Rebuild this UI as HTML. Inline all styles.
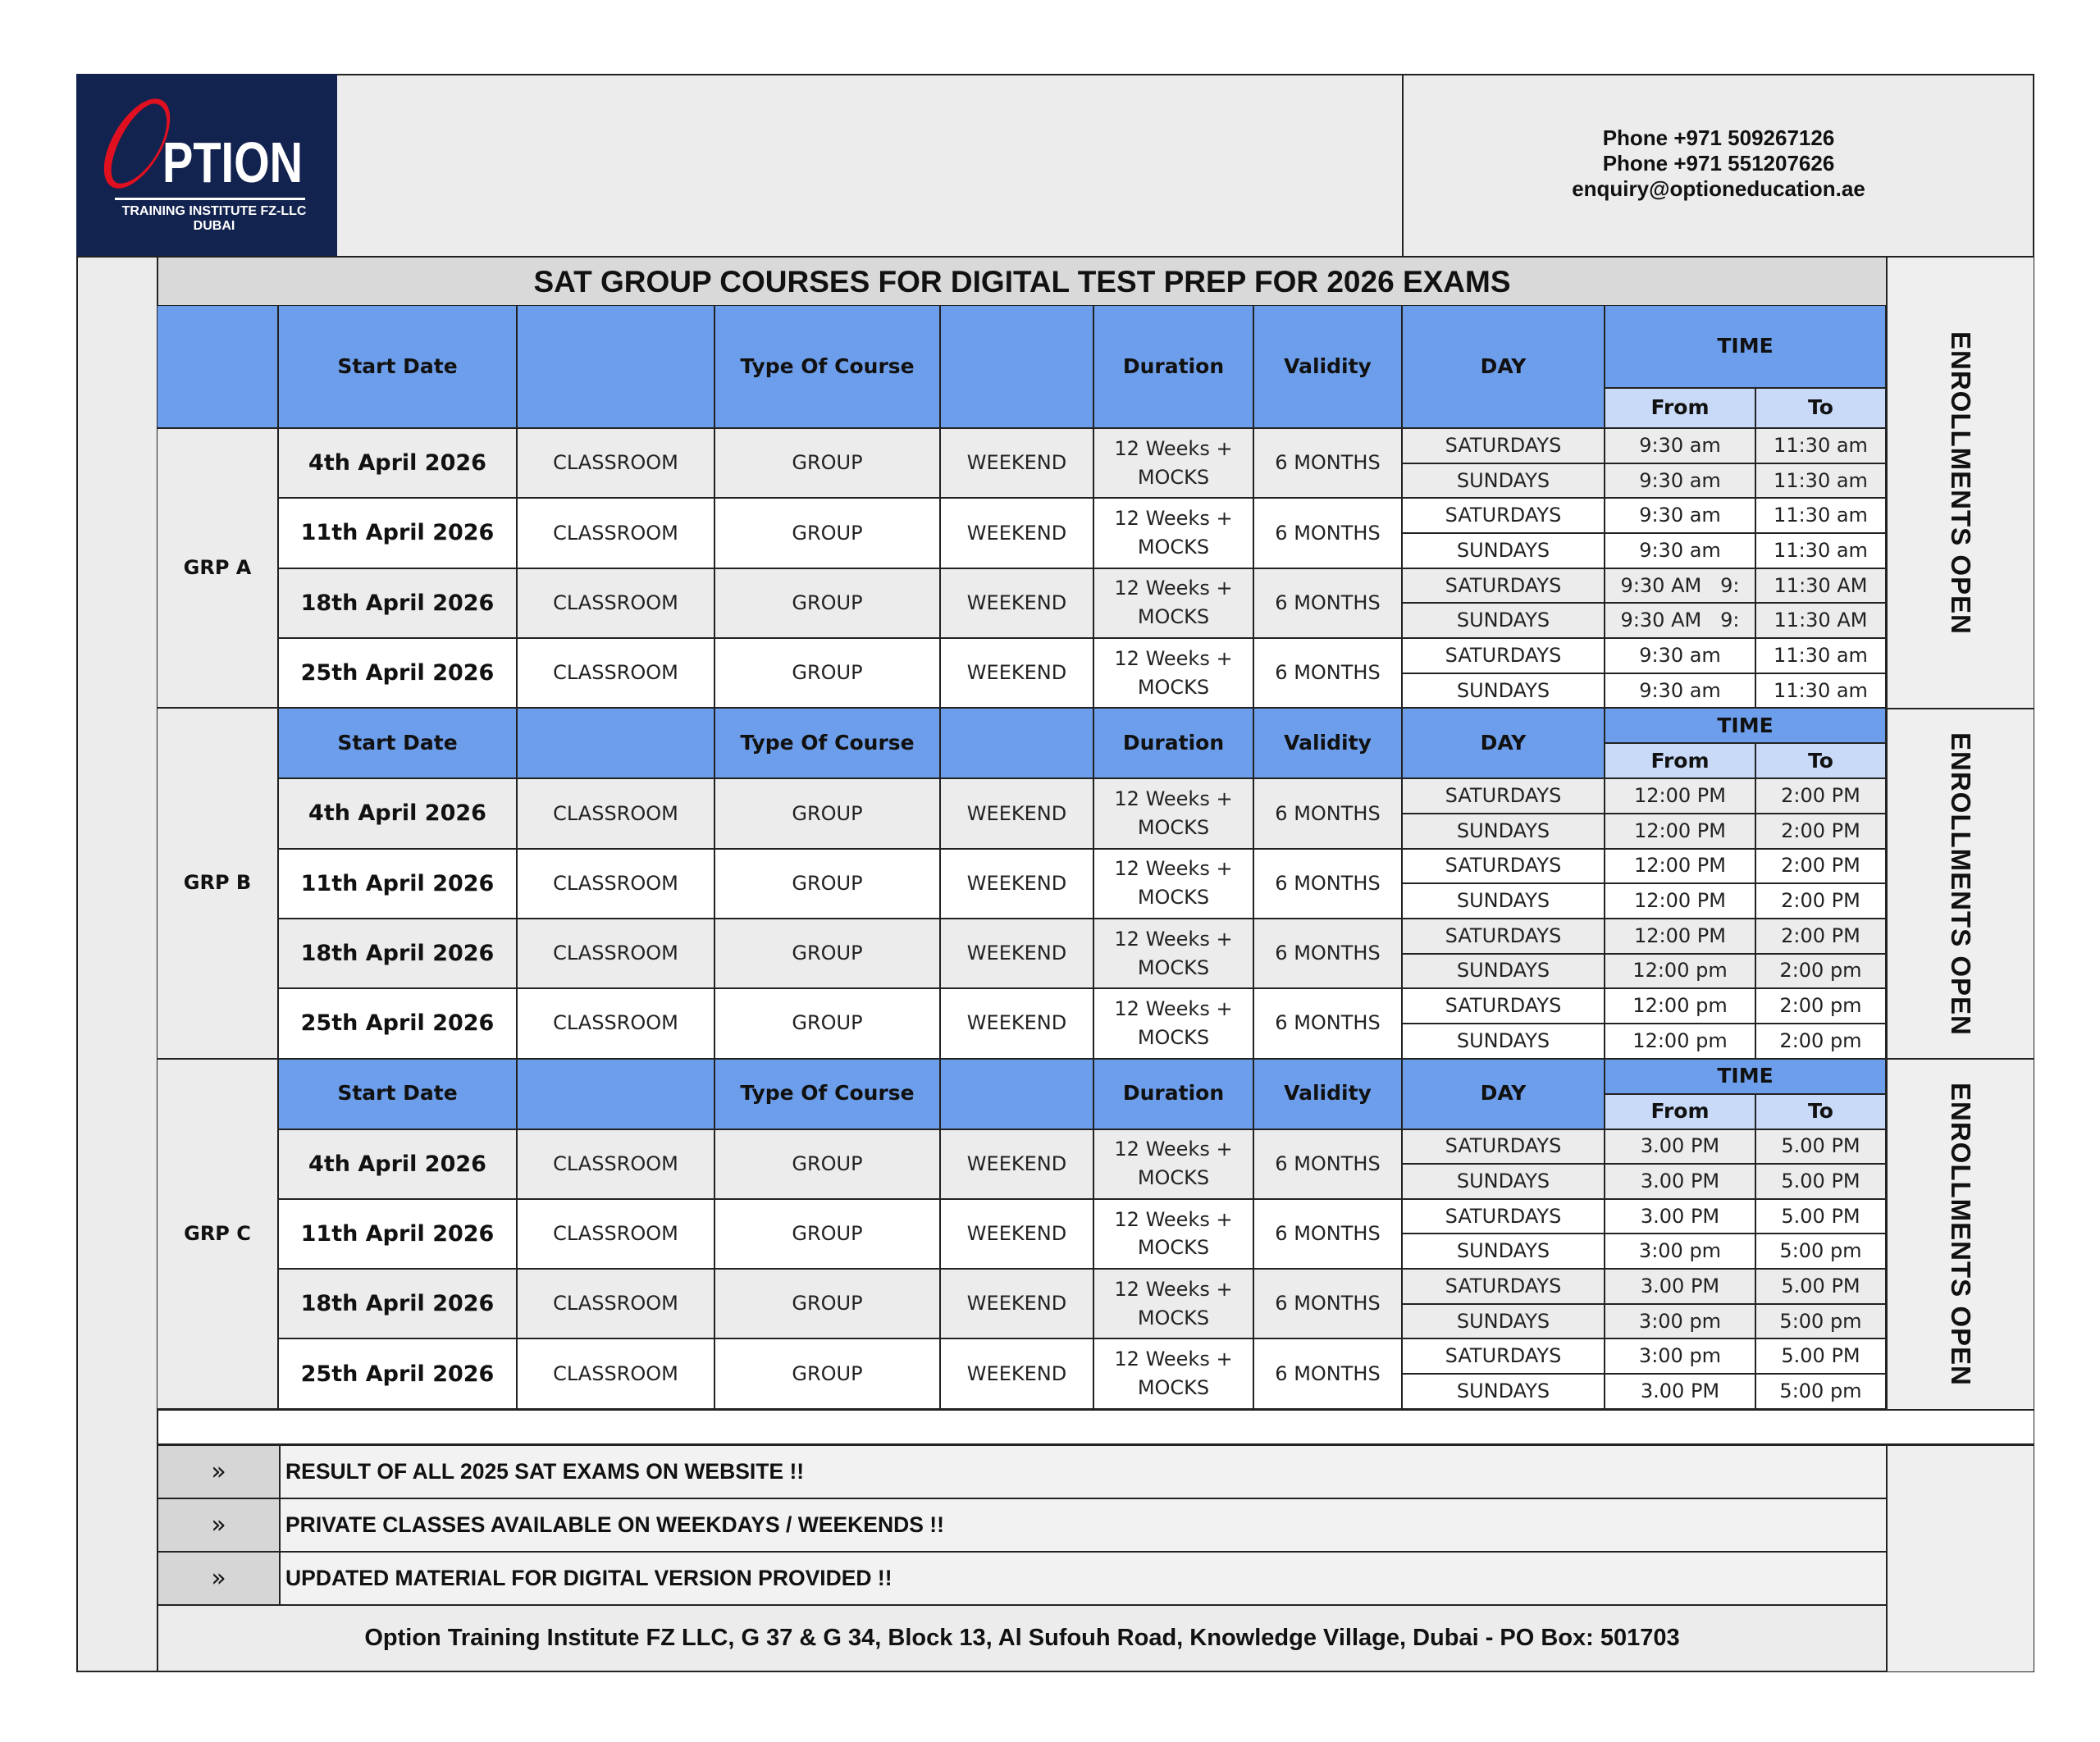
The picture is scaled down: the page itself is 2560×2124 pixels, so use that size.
<!DOCTYPE html>
<html><head><meta charset="utf-8"><style>
*{margin:0;padding:0;box-sizing:border-box}
body{width:2560px;height:2124px;background:#fff;position:relative;font-family:"DejaVu Sans","Liberation Sans",sans-serif;overflow:hidden}
.a{position:absolute}
.frame{left:93px;top:90px;width:2387px;height:1949px;border:2px solid #222;background:#ececec}
.grid{position:absolute;left:192px;top:373px;width:2108px;display:grid;gap:2px;background:#222;
grid-template-columns:146px 289px 239px 273px 185px 193px 179px 245px 182px 157px;
grid-template-rows:99px 47px repeat(8,40.67px) 41px 41px repeat(8,40.67px) 41px 41px repeat(8,40.67px);padding-bottom:2px}
.grid div{display:flex;align-items:center;justify-content:center;text-align:center;font-size:24px;color:#222;line-height:1.45}
.grid .h{background:#6d9eeb;font-weight:bold;color:#111;font-size:25px}
.grid .s{background:#c9daf8;font-weight:bold;color:#111;font-size:25px}
.grid .g{background:#ececec}
.grid .w{background:#fff}
.grid .d{font-weight:bold;font-size:27px;color:#111}
.grid .grp{background:#ececec;font-weight:bold;color:#111;font-size:24px}
.en{font-family:"Liberation Sans",sans-serif;font-weight:bold;font-size:33px;writing-mode:vertical-rl;color:#111;letter-spacing:1px;display:flex;align-items:center;justify-content:center}
.note{font-family:"Liberation Sans",sans-serif;font-weight:bold;font-size:26.5px;color:#111;display:flex;align-items:center}
.ar{background:#d6d6d6;display:flex;align-items:center;justify-content:center;font-size:30px;color:#111}
</style></head><body>
<div class="a frame"></div>
<!-- logo -->
<div class="a" style="left:93px;top:90px;width:318px;height:223px;background:#13234f"></div>
<div class="a" style="left:134px;top:120px;width:66px;height:110px;border:6px solid #e11020;border-radius:50%;transform:skewX(-18deg) rotate(8deg);border-left-width:10px;border-right-width:3px"></div>
<div class="a" style="left:198px;top:163px;font-family:'Liberation Sans',sans-serif;font-weight:bold;font-size:70px;color:#fff;transform:scaleX(0.8);transform-origin:left top;line-height:1">PTION</div>
<div class="a" style="left:140px;top:241px;width:232px;height:3px;background:#fff"></div>
<div class="a" style="left:93px;top:249px;width:318px;text-align:center;font-family:'Liberation Sans',sans-serif;font-weight:bold;font-size:16px;color:#fff;line-height:18px;padding-left:18px">TRAINING INSTITUTE FZ-LLC<br>DUBAI</div>
<!-- header lines -->
<div class="a" style="left:1709px;top:90px;width:2px;height:224px;background:#222"></div>
<div class="a" style="left:93px;top:312px;width:2387px;height:2px;background:#222"></div>
<div class="a" style="left:1711px;top:153px;width:768px;text-align:center;font-family:'Liberation Sans',sans-serif;font-weight:bold;font-size:26px;line-height:31px;color:#111">Phone +971 509267126<br>Phone +971 551207626<br>enquiry@optioneducation.ae</div>
<!-- left strip line -->
<div class="a" style="left:191px;top:313px;width:2px;height:1726px;background:#222"></div>
<!-- title -->
<div class="a" style="left:193px;top:314px;width:2106px;height:59px;background:#d9d9d9;display:flex;align-items:center;justify-content:center;font-family:'Liberation Sans',sans-serif;font-weight:bold;font-size:37px;color:#111">SAT GROUP COURSES FOR DIGITAL TEST PREP FOR 2026 EXAMS</div>
<div class="a" style="left:2299px;top:313px;width:2px;height:1408px;background:#222"></div>
<div class="a" style="left:192px;top:372px;width:2108px;height:2px;background:#222"></div>
<!-- enroll -->
<div class="a" style="left:2301px;top:314px;width:178px;height:1406px;background:#efefef"></div>
<div class="a en" style="left:2301px;top:314px;width:178px;height:550px">ENROLLMENTS OPEN</div>
<div class="a" style="left:2299px;top:863px;width:181px;height:2px;background:#222"></div>
<div class="a en" style="left:2301px;top:865px;width:178px;height:426px">ENROLLMENTS OPEN</div>
<div class="a" style="left:2299px;top:1290px;width:181px;height:2px;background:#222"></div>
<div class="a en" style="left:2301px;top:1292px;width:178px;height:426px">ENROLLMENTS OPEN</div>

<div class="grid">
<!-- A header -->
<div class="h" style="grid-area:1/1/3/2"></div>
<div class="h" style="grid-area:1/2/3/3">Start Date</div>
<div class="h" style="grid-area:1/3/3/4"></div>
<div class="h" style="grid-area:1/4/3/5">Type Of Course</div>
<div class="h" style="grid-area:1/5/3/6"></div>
<div class="h" style="grid-area:1/6/3/7">Duration</div>
<div class="h" style="grid-area:1/7/3/8">Validity</div>
<div class="h" style="grid-area:1/8/3/9">DAY</div>
<div class="h" style="grid-area:1/9/2/11">TIME</div>
<div class="s" style="grid-area:2/9/3/10">From</div>
<div class="s" style="grid-area:2/10/3/11">To</div>
<div class="grp" style="grid-area:3/1/11/2">GRP A</div>
<!-- A r1 -->
<div class="g d" style="grid-area:3/2/5/3">4th April 2026</div><div class="g" style="grid-area:3/3/5/4">CLASSROOM</div><div class="g" style="grid-area:3/4/5/5">GROUP</div><div class="g" style="grid-area:3/5/5/6">WEEKEND</div><div class="g" style="grid-area:3/6/5/7">12 Weeks +<br>MOCKS</div><div class="g" style="grid-area:3/7/5/8">6 MONTHS</div>
<div class="g" style="grid-area:3/8">SATURDAYS</div><div class="g" style="grid-area:3/9">9:30 am</div><div class="g" style="grid-area:3/10">11:30 am</div>
<div class="g" style="grid-area:4/8">SUNDAYS</div><div class="g" style="grid-area:4/9">9:30 am</div><div class="g" style="grid-area:4/10">11:30 am</div>
<!-- A r2 -->
<div class="w d" style="grid-area:5/2/7/3">11th April 2026</div><div class="w" style="grid-area:5/3/7/4">CLASSROOM</div><div class="w" style="grid-area:5/4/7/5">GROUP</div><div class="w" style="grid-area:5/5/7/6">WEEKEND</div><div class="w" style="grid-area:5/6/7/7">12 Weeks +<br>MOCKS</div><div class="w" style="grid-area:5/7/7/8">6 MONTHS</div>
<div class="w" style="grid-area:5/8">SATURDAYS</div><div class="w" style="grid-area:5/9">9:30 am</div><div class="w" style="grid-area:5/10">11:30 am</div>
<div class="w" style="grid-area:6/8">SUNDAYS</div><div class="w" style="grid-area:6/9">9:30 am</div><div class="w" style="grid-area:6/10">11:30 am</div>
<!-- A r3 -->
<div class="g d" style="grid-area:7/2/9/3">18th April 2026</div><div class="g" style="grid-area:7/3/9/4">CLASSROOM</div><div class="g" style="grid-area:7/4/9/5">GROUP</div><div class="g" style="grid-area:7/5/9/6">WEEKEND</div><div class="g" style="grid-area:7/6/9/7">12 Weeks +<br>MOCKS</div><div class="g" style="grid-area:7/7/9/8">6 MONTHS</div>
<div class="g" style="grid-area:7/8">SATURDAYS</div><div class="g" style="grid-area:7/9">9:30 AM&nbsp;&nbsp;&nbsp;9:</div><div class="g" style="grid-area:7/10">11:30 AM</div>
<div class="g" style="grid-area:8/8">SUNDAYS</div><div class="g" style="grid-area:8/9">9:30 AM&nbsp;&nbsp;&nbsp;9:</div><div class="g" style="grid-area:8/10">11:30 AM</div>
<!-- A r4 -->
<div class="w d" style="grid-area:9/2/11/3">25th April 2026</div><div class="w" style="grid-area:9/3/11/4">CLASSROOM</div><div class="w" style="grid-area:9/4/11/5">GROUP</div><div class="w" style="grid-area:9/5/11/6">WEEKEND</div><div class="w" style="grid-area:9/6/11/7">12 Weeks +<br>MOCKS</div><div class="w" style="grid-area:9/7/11/8">6 MONTHS</div>
<div class="w" style="grid-area:9/8">SATURDAYS</div><div class="w" style="grid-area:9/9">9:30 am</div><div class="w" style="grid-area:9/10">11:30 am</div>
<div class="w" style="grid-area:10/8">SUNDAYS</div><div class="w" style="grid-area:10/9">9:30 am</div><div class="w" style="grid-area:10/10">11:30 am</div>

<!-- B -->
<div class="grp" style="grid-area:11/1/21/2">GRP B</div>
<div class="h" style="grid-area:11/2/13/3">Start Date</div>
<div class="h" style="grid-area:11/3/13/4"></div>
<div class="h" style="grid-area:11/4/13/5">Type Of Course</div>
<div class="h" style="grid-area:11/5/13/6"></div>
<div class="h" style="grid-area:11/6/13/7">Duration</div>
<div class="h" style="grid-area:11/7/13/8">Validity</div>
<div class="h" style="grid-area:11/8/13/9">DAY</div>
<div class="h" style="grid-area:11/9/12/11">TIME</div>
<div class="s" style="grid-area:12/9/13/10">From</div>
<div class="s" style="grid-area:12/10/13/11">To</div>
<div class="g d" style="grid-area:13/2/15/3">4th April 2026</div><div class="g" style="grid-area:13/3/15/4">CLASSROOM</div><div class="g" style="grid-area:13/4/15/5">GROUP</div><div class="g" style="grid-area:13/5/15/6">WEEKEND</div><div class="g" style="grid-area:13/6/15/7">12 Weeks +<br>MOCKS</div><div class="g" style="grid-area:13/7/15/8">6 MONTHS</div>
<div class="g" style="grid-area:13/8">SATURDAYS</div><div class="g" style="grid-area:13/9">12:00 PM</div><div class="g" style="grid-area:13/10">2:00 PM</div>
<div class="g" style="grid-area:14/8">SUNDAYS</div><div class="g" style="grid-area:14/9">12:00 PM</div><div class="g" style="grid-area:14/10">2:00 PM</div>
<div class="w d" style="grid-area:15/2/17/3">11th April 2026</div><div class="w" style="grid-area:15/3/17/4">CLASSROOM</div><div class="w" style="grid-area:15/4/17/5">GROUP</div><div class="w" style="grid-area:15/5/17/6">WEEKEND</div><div class="w" style="grid-area:15/6/17/7">12 Weeks +<br>MOCKS</div><div class="w" style="grid-area:15/7/17/8">6 MONTHS</div>
<div class="w" style="grid-area:15/8">SATURDAYS</div><div class="w" style="grid-area:15/9">12:00 PM</div><div class="w" style="grid-area:15/10">2:00 PM</div>
<div class="w" style="grid-area:16/8">SUNDAYS</div><div class="w" style="grid-area:16/9">12:00 PM</div><div class="w" style="grid-area:16/10">2:00 PM</div>
<div class="g d" style="grid-area:17/2/19/3">18th April 2026</div><div class="g" style="grid-area:17/3/19/4">CLASSROOM</div><div class="g" style="grid-area:17/4/19/5">GROUP</div><div class="g" style="grid-area:17/5/19/6">WEEKEND</div><div class="g" style="grid-area:17/6/19/7">12 Weeks +<br>MOCKS</div><div class="g" style="grid-area:17/7/19/8">6 MONTHS</div>
<div class="g" style="grid-area:17/8">SATURDAYS</div><div class="g" style="grid-area:17/9">12:00 PM</div><div class="g" style="grid-area:17/10">2:00 PM</div>
<div class="g" style="grid-area:18/8">SUNDAYS</div><div class="g" style="grid-area:18/9">12:00 pm</div><div class="g" style="grid-area:18/10">2:00 pm</div>
<div class="w d" style="grid-area:19/2/21/3">25th April 2026</div><div class="w" style="grid-area:19/3/21/4">CLASSROOM</div><div class="w" style="grid-area:19/4/21/5">GROUP</div><div class="w" style="grid-area:19/5/21/6">WEEKEND</div><div class="w" style="grid-area:19/6/21/7">12 Weeks +<br>MOCKS</div><div class="w" style="grid-area:19/7/21/8">6 MONTHS</div>
<div class="w" style="grid-area:19/8">SATURDAYS</div><div class="w" style="grid-area:19/9">12:00 pm</div><div class="w" style="grid-area:19/10">2:00 pm</div>
<div class="w" style="grid-area:20/8">SUNDAYS</div><div class="w" style="grid-area:20/9">12:00 pm</div><div class="w" style="grid-area:20/10">2:00 pm</div>

<!-- C -->
<div class="grp" style="grid-area:21/1/31/2">GRP C</div>
<div class="h" style="grid-area:21/2/23/3">Start Date</div>
<div class="h" style="grid-area:21/3/23/4"></div>
<div class="h" style="grid-area:21/4/23/5">Type Of Course</div>
<div class="h" style="grid-area:21/5/23/6"></div>
<div class="h" style="grid-area:21/6/23/7">Duration</div>
<div class="h" style="grid-area:21/7/23/8">Validity</div>
<div class="h" style="grid-area:21/8/23/9">DAY</div>
<div class="h" style="grid-area:21/9/22/11">TIME</div>
<div class="s" style="grid-area:22/9/23/10">From</div>
<div class="s" style="grid-area:22/10/23/11">To</div>
<div class="g d" style="grid-area:23/2/25/3">4th April 2026</div><div class="g" style="grid-area:23/3/25/4">CLASSROOM</div><div class="g" style="grid-area:23/4/25/5">GROUP</div><div class="g" style="grid-area:23/5/25/6">WEEKEND</div><div class="g" style="grid-area:23/6/25/7">12 Weeks +<br>MOCKS</div><div class="g" style="grid-area:23/7/25/8">6 MONTHS</div>
<div class="g" style="grid-area:23/8">SATURDAYS</div><div class="g" style="grid-area:23/9">3.00 PM</div><div class="g" style="grid-area:23/10">5.00 PM</div>
<div class="g" style="grid-area:24/8">SUNDAYS</div><div class="g" style="grid-area:24/9">3.00 PM</div><div class="g" style="grid-area:24/10">5.00 PM</div>
<div class="w d" style="grid-area:25/2/27/3">11th April 2026</div><div class="w" style="grid-area:25/3/27/4">CLASSROOM</div><div class="w" style="grid-area:25/4/27/5">GROUP</div><div class="w" style="grid-area:25/5/27/6">WEEKEND</div><div class="w" style="grid-area:25/6/27/7">12 Weeks +<br>MOCKS</div><div class="w" style="grid-area:25/7/27/8">6 MONTHS</div>
<div class="w" style="grid-area:25/8">SATURDAYS</div><div class="w" style="grid-area:25/9">3.00 PM</div><div class="w" style="grid-area:25/10">5.00 PM</div>
<div class="w" style="grid-area:26/8">SUNDAYS</div><div class="w" style="grid-area:26/9">3:00 pm</div><div class="w" style="grid-area:26/10">5:00 pm</div>
<div class="g d" style="grid-area:27/2/29/3">18th April 2026</div><div class="g" style="grid-area:27/3/29/4">CLASSROOM</div><div class="g" style="grid-area:27/4/29/5">GROUP</div><div class="g" style="grid-area:27/5/29/6">WEEKEND</div><div class="g" style="grid-area:27/6/29/7">12 Weeks +<br>MOCKS</div><div class="g" style="grid-area:27/7/29/8">6 MONTHS</div>
<div class="g" style="grid-area:27/8">SATURDAYS</div><div class="g" style="grid-area:27/9">3.00 PM</div><div class="g" style="grid-area:27/10">5.00 PM</div>
<div class="g" style="grid-area:28/8">SUNDAYS</div><div class="g" style="grid-area:28/9">3:00 pm</div><div class="g" style="grid-area:28/10">5:00 pm</div>
<div class="w d" style="grid-area:29/2/31/3">25th April 2026</div><div class="w" style="grid-area:29/3/31/4">CLASSROOM</div><div class="w" style="grid-area:29/4/31/5">GROUP</div><div class="w" style="grid-area:29/5/31/6">WEEKEND</div><div class="w" style="grid-area:29/6/31/7">12 Weeks +<br>MOCKS</div><div class="w" style="grid-area:29/7/31/8">6 MONTHS</div>
<div class="w" style="grid-area:29/8">SATURDAYS</div><div class="w" style="grid-area:29/9">3:00 pm</div><div class="w" style="grid-area:29/10">5.00 PM</div>
<div class="w" style="grid-area:30/8">SUNDAYS</div><div class="w" style="grid-area:30/9">3.00 PM</div><div class="w" style="grid-area:30/10">5:00 pm</div>
</div>

<!-- blank row -->
<div class="a" style="left:193px;top:1720px;width:2286px;height:41px;background:#fff"></div>
<div class="a" style="left:192px;top:1718px;width:2288px;height:2px;background:#222"></div>
<div class="a" style="left:192px;top:1760px;width:2288px;height:3px;background:#222"></div>
<div class="a" style="left:2299px;top:1761px;width:2px;height:278px;background:#222"></div>
<div class="a" style="left:2301px;top:1763px;width:178px;height:275px;background:#efefef"></div>
<!-- notes -->
<div class="a ar" style="left:193px;top:1763px;width:147px;height:63px">»</div>
<div class="a note" style="left:342px;top:1763px;width:1957px;height:63px;background:#f2f2f2;padding-left:6px">RESULT OF ALL 2025 SAT EXAMS ON WEBSITE !!</div>
<div class="a" style="left:192px;top:1826px;width:2108px;height:2px;background:#222"></div>
<div class="a ar" style="left:193px;top:1828px;width:147px;height:63px">»</div>
<div class="a note" style="left:342px;top:1828px;width:1957px;height:63px;background:#f2f2f2;padding-left:6px">PRIVATE CLASSES AVAILABLE ON WEEKDAYS / WEEKENDS !!</div>
<div class="a" style="left:192px;top:1891px;width:2108px;height:2px;background:#222"></div>
<div class="a ar" style="left:193px;top:1893px;width:147px;height:63px">»</div>
<div class="a note" style="left:342px;top:1893px;width:1957px;height:63px;background:#f2f2f2;padding-left:6px">UPDATED MATERIAL FOR DIGITAL VERSION PROVIDED !!</div>
<div class="a" style="left:340px;top:1763px;width:2px;height:194px;background:#222"></div>
<div class="a" style="left:192px;top:1956px;width:2108px;height:2px;background:#222"></div>
<div class="a" style="left:193px;top:1958px;width:2106px;height:79px;background:#ececec;display:flex;align-items:center;justify-content:center;font-family:'Liberation Sans',sans-serif;font-weight:bold;font-size:29px;color:#111">Option Training Institute FZ LLC, G 37 &amp; G 34, Block 13, Al Sufouh Road, Knowledge Village, Dubai - PO Box: 501703</div>
</body></html>
